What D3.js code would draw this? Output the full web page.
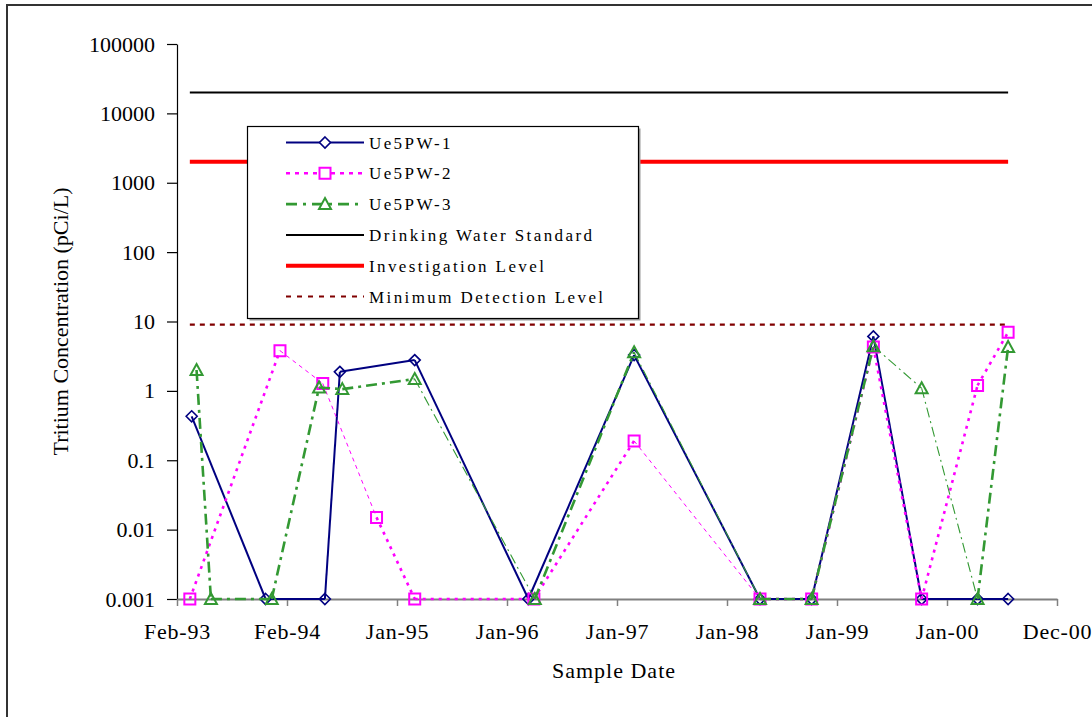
<!DOCTYPE html>
<html><head><meta charset="utf-8">
<script src="https://cdn.jsdelivr.net/npm/d3@7"></script>
<style>body{margin:0;background:#fff} svg{display:block}</style>
</head><body><svg id="chart" width="1092" height="717"></svg>
<script>
// ---------------- DATA ----------------
const seriesNames = ["Ue5PW-1", "Ue5PW-2", "Ue5PW-3"];
const refNames = ["Drinking Water Standard", "Investigation Level", "Minimum Detection Level"];

const pw1Dates = ["1993-03-28","1993-11-25","1994-06-07","1994-07-26","1995-03-28","1996-04-03","1997-03-15","1998-05-01","1998-10-17","1999-05-07","1999-10-12","2000-04-12","2000-07-21"];
const pw1Values = [0.43, 0.001, 0.001, 1.88, 2.78, 0.001, 3.28, 0.001, 0.001, 6.1, 0.001, 0.001, 0.001];

const pw2Dates = ["1993-03-22","1994-01-11","1994-05-31","1994-11-23","1995-03-28","1996-04-21","1997-03-15","1998-05-01","1998-10-17","1999-05-07","1999-10-12","2000-04-12","2000-07-21"];
const pw2Values = [0.001, 3.8, 1.28, 0.015, 0.001, 0.001, 0.19, 0.001, 0.001, 4.3, 0.001, 1.2, 7.0];

const pw3Dates = ["1993-04-13","1993-05-30","1993-12-15","1994-05-19","1994-08-03","1995-03-28","1996-04-24","1997-03-15","1998-05-01","1998-10-17","1999-05-07","1999-10-12","2000-04-12","2000-07-21"];
const pw3Values = [2.0, 0.001, 0.001, 1.12, 1.06, 1.48, 0.001, 3.6, 0.001, 0.001, 4.4, 1.09, 0.001, 4.3];

const refDates = ["1993-03-22", "2000-07-21"];
const drinkingWaterValues = [20000, 20000];
const investigationValues = [2000, 2000];
const mdlValues = [9, 9];

const xAxisStart = "1993-02-08";
const xTickStepDays = 360;
const xTickLabels = ["Feb-93","Feb-94","Jan-95","Jan-96","Jan-97","Jan-98","Jan-99","Jan-00","Dec-00"];
const yTickValues = [0.001, 0.01, 0.1, 1, 10, 100, 1000, 10000, 100000];
const yTickLabels = ["0.001","0.01","0.1","1","10","100","1000","10000","100000"];
const xTitle = "Sample Date";
const yTitle = "Tritium Concentration (pCi/L)";

// ---------------- STYLE ----------------
const FONT = "'Liberation Serif', 'Times New Roman', serif";
const plot = {left: 177, right: 1057, top: 44, bottom: 599};
const navy = "#000080", pink = "#FF00FF", green = "#339933", red = "#FF0000", maroon = "#800000";
const pw2Thin = [1, 2, 6];
const pw3Thin = [5, 7, 10, 11];

const svg = d3.select("#chart");
svg.append("rect").attr("width", 1092).attr("height", 717).attr("fill", "#fff");
// outer frame
svg.append("rect").attr("x", 7).attr("y", 5).attr("width", 1200).attr("height", 800)
  .attr("fill", "none").attr("stroke", "#333").attr("stroke-width", 2);

const parse = d3.utcParse("%Y-%m-%d");
const start = parse(xAxisStart);
const end = d3.utcDay.offset(start, xTickStepDays * (xTickLabels.length - 1));
const x = d3.scaleUtc().domain([start, end]).range([plot.left, plot.right]);
const y = d3.scaleLog().domain([0.001, 100000]).range([plot.bottom, plot.top]);
const xTickDates = xTickLabels.map((_, i) => d3.utcDay.offset(start, i * xTickStepDays));

// Y axis
const gy = svg.append("g").attr("transform", `translate(${plot.left},0)`)
  .call(d3.axisLeft(y).tickValues(yTickValues).tickFormat((d, i) => yTickLabels[i])
    .tickSize(10).tickSizeOuter(0).tickPadding(12));
gy.select(".domain").attr("stroke", "#000").attr("stroke-width", 1.2);
gy.selectAll(".tick line").attr("stroke", "#000").attr("stroke-width", 1.2);
gy.selectAll("text").attr("font-family", FONT).attr("font-size", 22).attr("fill", "#000");

// X axis
const gx = svg.append("g").attr("transform", `translate(0,${plot.bottom})`)
  .call(d3.axisBottom(x).tickValues(xTickDates).tickFormat((d, i) => xTickLabels[i])
    .tickSize(7).tickSizeOuter(0).tickPadding(17));
gx.select(".domain").attr("stroke", "#808080").attr("stroke-width", 2.2);
gx.selectAll(".tick line").attr("stroke", "#808080").attr("stroke-width", 1.5);
gx.selectAll("text").attr("font-family", FONT).attr("font-size", 22).attr("fill", "#000")
  .attr("letter-spacing", "0.8px");

// titles
svg.append("text").attr("x", 614).attr("y", 678).attr("text-anchor", "middle")
  .attr("font-family", FONT).attr("font-size", 22).attr("letter-spacing", "1px").text(xTitle);
svg.append("text").attr("transform", `translate(68,${(plot.top + plot.bottom) / 2}) rotate(-90)`)
  .attr("text-anchor", "middle").attr("font-family", FONT).attr("font-size", 22).text(yTitle);

// reference lines
function refLine(values, color, width, dash) {
  const pts = refDates.map((d, i) => [x(parse(d)), y(values[i])]);
  svg.append("path").attr("d", d3.line()(pts)).attr("fill", "none")
    .attr("stroke", color).attr("stroke-width", width).attr("stroke-dasharray", dash);
}
refLine(drinkingWaterValues, "#000", 2, null);
refLine(investigationValues, red, 4, null);
refLine(mdlValues, maroon, 2.2, "5,5");

// markers
const markerPath = {
  diamond: "M0,-5.5L5.5,0L0,5.5L-5.5,0Z",
  square: "M-5.5,-5.5H5.5V5.5H-5.5Z",
  triangle: "M0,-6L6,5L-6,5Z"
};

function drawSeries(dates, values, color, thick, thin, thinList, marker, mw) {
  const pts = dates.map((d, i) => [x(parse(d)), y(values[i])]);
  const g = svg.append("g");
  for (let i = 0; i < pts.length - 1; i++) {
    const st = thinList.includes(i) ? thin : thick;
    g.append("line").attr("x1", pts[i][0]).attr("y1", pts[i][1])
      .attr("x2", pts[i + 1][0]).attr("y2", pts[i + 1][1])
      .attr("stroke", color).attr("stroke-width", st.w).attr("stroke-dasharray", st.dash);
  }
  g.selectAll("path.m").data(pts).join("path").attr("class", "m")
    .attr("d", markerPath[marker]).attr("transform", d => `translate(${d[0]},${d[1]})`)
    .attr("fill", "none").attr("stroke", color).attr("stroke-width", mw);
}
drawSeries(pw1Dates, pw1Values, navy, {w: 2, dash: null}, {w: 2, dash: null}, [], "diamond", 1.6);
drawSeries(pw2Dates, pw2Values, pink, {w: 2.6, dash: "3,5"}, {w: 1, dash: "4,4"}, pw2Thin, "square", 2);
drawSeries(pw3Dates, pw3Values, green, {w: 2.6, dash: "11,5,3,5"}, {w: 1.1, dash: "10,4,2,4"}, pw3Thin, "triangle", 2);

// legend
const lg = svg.append("g");
lg.append("rect").attr("x", 249.5).attr("y", 128.5).attr("width", 391).attr("height", 192).attr("fill", "#999");
lg.append("rect").attr("x", 247.5).attr("y", 126.5).attr("width", 391).attr("height", 192)
  .attr("fill", "#fff").attr("stroke", "#000").attr("stroke-width", 1.2);
const legendItems = [
  {name: seriesNames[0], color: navy, w: 2, dash: null, marker: "diamond", mw: 1.6},
  {name: seriesNames[1], color: pink, w: 2.6, dash: "4,5", marker: "square", mw: 2},
  {name: seriesNames[2], color: green, w: 2.6, dash: "11,6,3,6", marker: "triangle", mw: 2},
  {name: refNames[0], color: "#000", w: 2, dash: null},
  {name: refNames[1], color: red, w: 4, dash: null},
  {name: refNames[2], color: maroon, w: 2, dash: "5,6"}
];
legendItems.forEach((it, i) => {
  const yy = 142.5 + i * 30.8;
  lg.append("line").attr("x1", 286).attr("x2", 364).attr("y1", yy).attr("y2", yy)
    .attr("stroke", it.color).attr("stroke-width", it.w).attr("stroke-dasharray", it.dash);
  if (it.marker) {
    lg.append("path").attr("d", markerPath[it.marker]).attr("transform", `translate(325,${yy})`)
      .attr("fill", "#fff").attr("stroke", it.color).attr("stroke-width", it.mw);
  }
  lg.append("text").attr("x", 369).attr("y", yy + 6).attr("font-family", FONT).attr("font-size", 17)
    .attr("letter-spacing", "2.4px").text(it.name);
});
</script>
</body></html>
